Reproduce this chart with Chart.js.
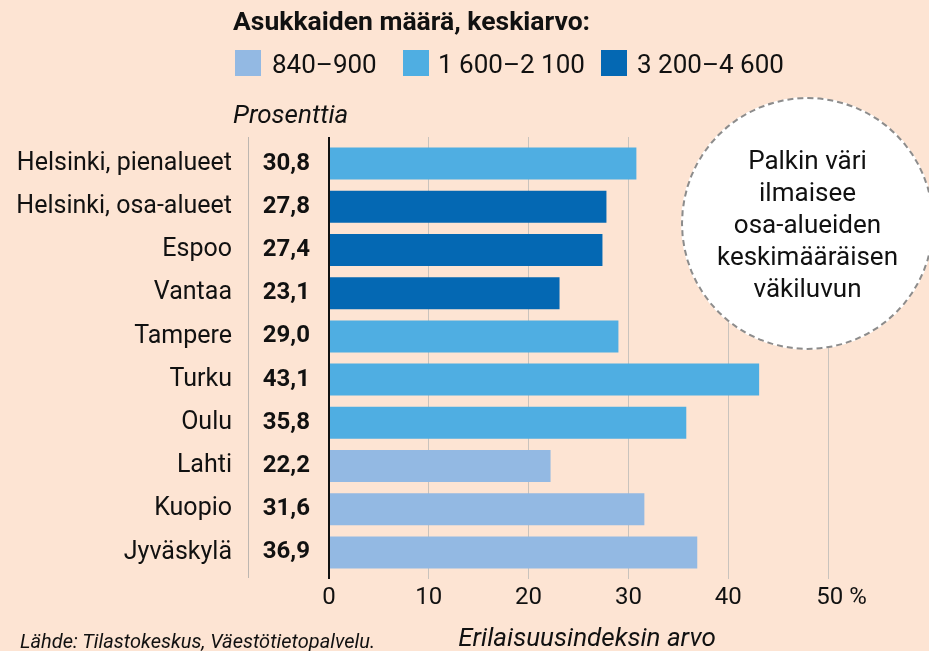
<!DOCTYPE html>
<html lang="fi">
<head>
<meta charset="utf-8">
<script src="https://cdn.jsdelivr.net/npm/chart.js@4.4.1/dist/chart.umd.min.js"></script>
<style>
  html, body { margin:0; padding:0; background:#fde4d3; overflow:hidden; }
  #wrap { position:relative; width:929px; height:651px; font-family: Roboto, "Noto Sans", sans-serif; color:#111; }
  #wrap canvas { position:absolute; left:0; top:0; }
  .abs { position:absolute; white-space:nowrap; }
  #title { left:233px; top:8px; font-size:26.5px; line-height:26.5px; font-weight:700; }
  .sw { position:absolute; width:26px; height:26px; top:50px; }
  .lg { position:absolute; top:51px; font-size:26px; line-height:26px; }
  #unit { left:233px; top:101px; font-size:26px; line-height:26px; font-style:italic; }
  #xtitle { left:587px; top:624px; font-size:26px; line-height:26px; font-style:italic; transform:translateX(-50%); }
  #source { left:20px; top:631px; font-size:20px; line-height:20px; font-style:italic; }
  #note { position:absolute; left:681px; top:97px; width:249px; height:249px; border:2px dashed #8c8c8c; border-radius:50%;
          background:#fff; display:flex; align-items:center; justify-content:center; text-align:center;
          font-size:26px; line-height:32px; }
</style>
</head>
<body>
<div id="wrap">
  <canvas id="c" width="929" height="651"></canvas>
  <div id="title" class="abs">Asukkaiden määrä, keskiarvo:</div>
  <div id="legend"></div>
  <div id="unit" class="abs">Prosenttia</div>
  <div id="note"><div>Palkin väri<br>ilmaisee<br>osa-alueiden<br>keskimääräisen<br>väkiluvun</div></div>
  <div id="xtitle" class="abs">Erilaisuusindeksin arvo</div>
  <div id="source" class="abs">Lähde: Tilastokeskus, Väestötietopalvelu.</div>
</div>
<script>
// ---- data ----
const categories = ['Helsinki, pienalueet', 'Helsinki, osa-alueet', 'Espoo', 'Vantaa', 'Tampere',
                    'Turku', 'Oulu', 'Lahti', 'Kuopio', 'Jyväskylä'];
const values = [30.8, 27.8, 27.4, 23.1, 29.0, 43.1, 35.8, 22.2, 31.6, 36.9];
// population-size group of each category (index into groupLabels)
const sizeGroup = [1, 2, 2, 2, 1, 1, 1, 0, 0, 0];
const groupLabels = ['840–900', '1 600–2 100', '3 200–4 600'];
const xTickValues = [0, 10, 20, 30, 40, 50];
const xTickLabels = ['0', '10', '20', '30', '40', '\u2007\u200750 %'];

// ---- styles ----
const groupColors = ['#93b9e3', '#4faee2', '#0468b3'];
const legendSwatchX = [235, 403, 601];
const legendTextX = [272, 438, 637];
const gridColor = '#c9c3bd';
const textColor = '#111111';

// legend (HTML)
const lg = document.getElementById('legend');
groupLabels.forEach((t, i) => {
  const s = document.createElement('div');
  s.className = 'sw'; s.style.left = legendSwatchX[i] + 'px'; s.style.background = groupColors[i];
  lg.appendChild(s);
  const l = document.createElement('div');
  l.className = 'lg'; l.style.left = legendTextX[i] + 'px'; l.textContent = t;
  lg.appendChild(l);
});

const valueLabels = values.map(v => v.toFixed(1).replace('.', ','));

const extendLines = {
  id: 'extendLines',
  afterDatasetsDraw(chart) {
    const { ctx, chartArea, scales } = chart;
    ctx.save();
    scales.x.ticks.forEach(t => {
      const px = scales.x.getPixelForValue(t.value);
      const zero = t.value === 0;
      ctx.strokeStyle = zero ? textColor : gridColor;
      ctx.lineWidth = zero ? 2 : 1;
      const ax = zero ? Math.round(px) : Math.round(px - 0.5) + 0.5;
      ctx.beginPath();
      ctx.moveTo(ax, chartArea.top - 5);
      ctx.lineTo(ax, chartArea.top);
      ctx.stroke();
    });
    const sx = Math.round(scales.y.right - 0.5) + 0.5;
    ctx.strokeStyle = '#bdb6b0';
    ctx.lineWidth = 1;
    ctx.beginPath();
    ctx.moveTo(sx, chartArea.top - 5);
    ctx.lineTo(sx, chartArea.top);
    ctx.moveTo(sx, chartArea.bottom);
    ctx.lineTo(sx, chartArea.bottom + 4);
    ctx.stroke();
    ctx.restore();
  }
};

function build() {
  Chart.defaults.font.family = 'Roboto';
  Chart.defaults.color = textColor;
  new Chart(document.getElementById('c'), {
    type: 'bar',
    data: {
      labels: categories,
      datasets: [{
        data: values,
        backgroundColor: sizeGroup.map(g => groupColors[g]),
        borderWidth: 0,
        barPercentage: 0.74,
        categoryPercentage: 1
      }]
    },
    options: {
      indexAxis: 'y',
      responsive: false,
      animation: false,
      events: [],
      layout: { padding: { top: 142, right: 101, left: 0, bottom: 0 } },
      plugins: { legend: { display: false }, tooltip: { enabled: false } },
      scales: {
        x: {
          type: 'linear', min: 0, max: 50,
          afterBuildTicks: s => { s.ticks = xTickValues.map(v => ({ value: v })); },
          afterFit: s => { s.height = 77; },
          border: { display: false },
          grid: {
            color: c => (c.tick && c.tick.value === 0) ? textColor : gridColor,
            lineWidth: c => (c.tick && c.tick.value === 0) ? 2 : 1,
            tickLength: 5,
            drawTicks: true
          },
          ticks: {
            autoSkip: false, maxRotation: 0,
            padding: 5,
            font: { size: 24 },
            callback: (v) => xTickLabels[xTickValues.indexOf(v)]
          }
        },
        y: {
          type: 'category', position: 'left', weight: 2,
          afterFit: s => { s.width = 248; },
          grid: { display: false, drawTicks: false },
          border: { display: true, color: '#bdb6b0', width: 1 },
          ticks: { padding: 16, autoSkip: false, font: { size: 25 } }
        },
        y2: {
          type: 'category', axis: 'y', position: 'left', weight: 1,
          labels: valueLabels, offset: true,
          afterFit: s => { s.width = 81; },
          grid: { display: false, drawTicks: false },
          border: { display: true, color: textColor, width: 2, z: 1 },
          ticks: { padding: 19, autoSkip: false, font: { size: 24, weight: 'bold' } }
        }
      }
    },
    plugins: [extendLines]
  });
}

const fontLoads = ['24px Roboto', 'bold 24px Roboto', 'italic 24px Roboto', 'bold 26px Roboto'].map(f => document.fonts.load(f));
Promise.all(fontLoads).then(build, build);
</script>
</body>
</html>
